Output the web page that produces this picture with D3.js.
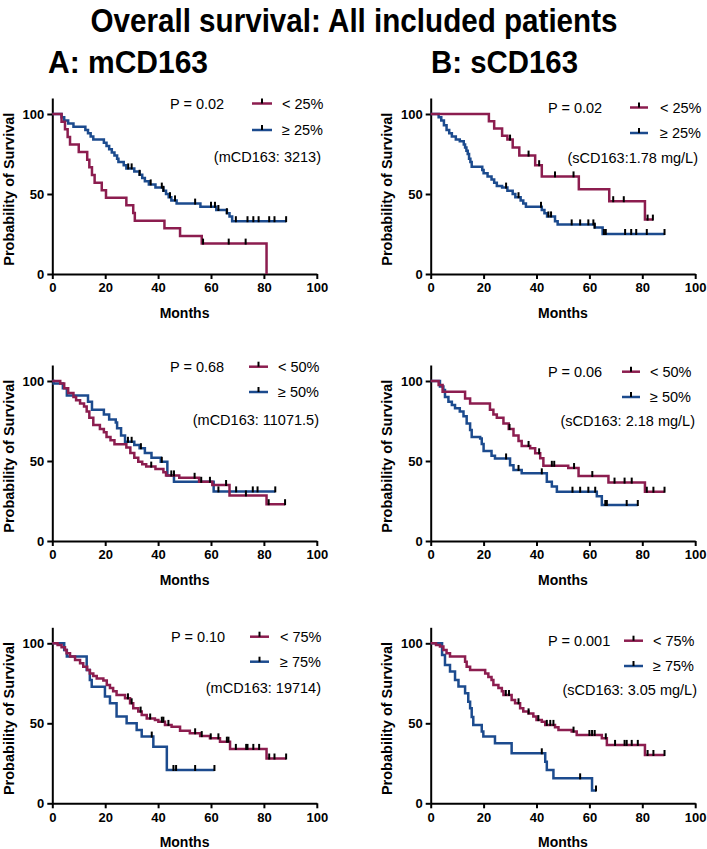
<!DOCTYPE html>
<html>
<head>
<meta charset="utf-8">
<script src="https://cdn.jsdelivr.net/npm/d3@7"></script>
<style>
  body { margin: 0; background: #fff; }
  svg { display: block; font-family: "Liberation Sans", Arial, sans-serif; }
</style>
</head>
<body>
<div id="chart-area"></div>
<script>
// tick labels
var monthTicks = [0, 20, 40, 60, 80, 100];
var survTicks = [0, 50, 100];

// A: mCD163, 25% cut (months, % surviving) + censor times
var mLow25 = [[0,100],[3.5,95.2],[4.8,90.5],[5.8,85.7],[6.7,81],[10,76.2],[13.2,71.4],[14,66.7],[15,61.9],[16,57.1],[18.7,52.4],[20.3,47.6],[28,42.9],[30.6,38.1],[31.2,33.3],[42.4,28.6],[48.3,23.8],[56.5,19],[81,0]];
var mLow25Cens = [57, 66.7, 73.1];
var mHigh25 = [[0,100],[3.5,98],[4.5,96],[6,94],[8,92],[12.5,90],[13.5,88],[14.5,86],[15.5,84],[19.5,82],[20.5,80],[21.5,78],[22.5,76],[23.5,74],[24.5,72],[25,70],[27,68],[28,66],[31,64],[33,62],[34,60],[35,58],[36.5,56],[39,54],[42,52],[43,50],[44,48],[45,46],[47,44],[56,42],[62,40],[66,38],[67,36],[68,33]];
var mHigh25Cens = [28.7, 30, 33, 37.2, 41.4, 42, 44.5, 46.4, 54, 60, 61.5, 62.8, 66, 69.4, 73.8, 76, 78, 82, 84, 88.4];

// B: sCD163, 25% cut
var sLow25 = [[0,100],[22,95.5],[24,91],[27,86.4],[29,84],[31,79],[33.5,74],[39.5,68],[42,61],[56,53],[67.5,45.5],[81,34]];
var sLow25Cens = [30, 37, 41, 47, 54, 69, 73, 82, 84];
var sHigh25 = [[0,100],[3,98],[4,96],[5,93],[6,90],[7,88],[8,86],[9.5,84],[11,83],[12.5,81],[13,79],[13.5,77],[14,75],[14.5,72],[15,70],[15.5,67],[19.5,65],[20,63],[21.5,61],[23,59],[24,57],[25,55],[27,54],[29,52],[31,50],[32,48],[34,46],[35,44],[36,42],[42,40],[43,38],[44,36],[47,33],[48,31],[62,29],[65,25]];
var sHigh25Cens = [28.5, 33.2, 41.7, 44.5, 45.5, 53.3, 56.5, 59.6, 61.5, 62, 65.5, 66.2, 73.5, 75.8, 77.7, 81.7, 88.4];

// A: mCD163, 50% cut
var mLow50 = [[0,100],[3,98.5],[4.5,95.5],[6,92.5],[8,90],[9,88],[10.5,86],[12,84],[13,81],[14,77],[15.5,72.5],[18,70],[19.5,68],[20.5,65],[22,63],[23.5,60.5],[28,58.5],[29.5,55],[31,52],[32.5,49.5],[34,48],[35.5,46.5],[39,45],[42,43],[43,41],[48,39.5],[55.5,37],[60.5,35],[67,28.5],[81,23]];
var mLow50Cens = [37.4, 46, 53.8, 56.3, 65.7, 73.2, 81.8, 88];
var mHigh50 = [[0,100],[0.5,98.5],[4,95.5],[5.5,91],[13.5,87],[15,82],[19.5,79],[21.5,76],[24,74],[24.5,70.5],[26,66],[27.5,62],[31,60],[33,58],[35,55],[37.5,52],[41,49.5],[43.5,41],[46,37],[61,31]];
var mHigh50Cens = [28.6, 30, 33.5, 41.4, 45, 59.6, 62.8, 69.5, 75.8, 77.6, 84.3];

// B: sCD163, 50% cut
var sLow50 = [[0,100],[3,97.5],[4.5,93.3],[13,89],[14.9,86],[22.4,82],[23.7,79],[25,77],[27.5,73.5],[29.5,70],[31.3,66],[33.2,62.5],[34.4,59.4],[37.6,58],[39.5,54.8],[41.4,51.7],[42.6,47],[52,45.6],[55.9,40.6],[67.2,36.5],[81,30.8]];
var sLow50Cens = [29.8, 37, 41, 45.8, 46.7, 54.2, 61.1, 69.5, 73.3, 76, 81.7, 84.2, 88.4];
var sHigh50 = [[0,100],[3.5,96.5],[4.8,94.4],[5.4,90],[6.7,87],[8,85],[9.2,83],[11,81],[12.4,78],[13.6,73.5],[14.9,69.4],[15.5,65],[18.7,64],[19.3,60.6],[20,56.3],[23,53.3],[24.3,51.6],[30,47.3],[31.3,44.4],[34.4,42.3],[43.9,37],[45.8,34],[47.7,30.8],[62.8,28],[64.7,22.5]];
var sHigh50Cens = [28.5, 33.2, 42, 53.6, 56.5, 59.6, 62.2, 66, 66.6, 74.1, 78.3];

// A: mCD163, 75% cut
var mLow75 = [[0,100],[2,99],[3.5,97.5],[4.8,95.8],[5.4,93.8],[6.7,91.7],[8.6,89.6],[10.5,87.5],[11.7,85.4],[13.2,83.3],[14.2,81.2],[15.5,79.6],[16.8,78],[19.3,76.7],[20.6,74],[21.8,72],[23,70],[24.3,67.7],[27.5,65.6],[29.4,62.5],[30.6,59.4],[32.5,57.3],[33.8,55.2],[35.7,53],[38.8,52],[40.1,51],[42.6,49],[45.1,47.9],[48.3,45.4],[52,43.75],[55.9,42],[59.6,40.6],[63.4,38.5],[67.2,34],[81,28]];
var mLow75Cens = [28.6, 30, 33.4, 37, 41.4, 42, 43.9, 54, 56.5, 59.9, 62.8, 66, 66.6, 69.4, 73.3, 73.8, 76, 78.2, 82, 84, 88.4];
var mHigh75 = [[0,100],[4.5,95.8],[5.5,91.7],[13,83.3],[14.2,77],[14.9,72.9],[19.9,66.7],[21.8,62.5],[24.3,54.2],[28.1,50],[31.9,45.8],[33.8,41.7],[38.2,35.4],[43.3,20.8]];
var mHigh75Cens = [37.6, 45.8, 46.8, 54, 61.3];

// B: sCD163, 75% cut
var sLow75 = [[0,100],[2,99],[3.5,98],[4.8,95.8],[6,93.8],[7.3,91.7],[13,88.5],[13.6,85.4],[14.9,83.3],[20.6,81.2],[21.8,79],[23,77],[23.7,74],[25.6,72],[26.9,70],[27.5,67.7],[30.6,64.6],[31.9,62.5],[33.8,59.4],[35,57.3],[37,56.2],[38.8,54.2],[40,52],[42,51],[43.3,49],[47,47.5],[48.3,45.8],[53.3,44.8],[55.2,42.7],[64.7,40.6],[66.6,36.5],[81,30.2]];
var sLow75Cens = [28.4, 29.6, 33.2, 37, 40.7, 43.9, 45.2, 46.4, 54, 60, 61, 62, 66.2, 69.7, 73.3, 74.1, 76, 78.3, 82, 84.2, 88.4];
var sHigh75 = [[0,100],[4.3,92.7],[5.4,86.5],[7.3,82.3],[9.2,77],[10.5,73],[13,68.75],[14.2,63.5],[14.9,59.4],[15.5,54],[16.1,49],[19.3,44.8],[19.9,41.7],[24.3,37.5],[30.6,31.25],[43.3,26],[43.9,20.8],[46.4,15.6],[61,8]];
var sHigh75Cens = [42, 56.5, 62.5];

var width = 707;
var height = 849;
var red = "#8c1d4f";
var blue = "#1c4b8e";

var panels = [
    {x0: 52.3, y0: 274, low: mLow25, lowCens: mLow25Cens, high: mHigh25, highCens: mHigh25Cens,
     p: "P = 0.02", lowLab: "< 25%", highLab: "\u2265 25%", note: "(mCD163: 3213)",
     leg: {px: 170, r1: 103.5, r2: 130, l1: 252, l2: 272, tx: 282, nx: 321, ny: 156.7}},
    {x0: 430.7, y0: 274, low: sLow25, lowCens: sLow25Cens, high: sHigh25, highCens: sHigh25Cens,
     p: "P = 0.02", lowLab: "< 25%", highLab: "\u2265 25%", note: "(sCD163:1.78 mg/L)",
     leg: {px: 548, r1: 107.5, r2: 133, l1: 630, l2: 648, tx: 660, nx: 698, ny: 158}},
    {x0: 52.3, y0: 541, low: mLow50, lowCens: mLow50Cens, high: mHigh50, highCens: mHigh50Cens,
     p: "P = 0.68", lowLab: "< 50%", highLab: "\u2265 50%", note: "(mCD163: 11071.5)",
     leg: {px: 170, r1: 366.7, r2: 392, l1: 249, l2: 268, tx: 278, nx: 319, ny: 420}},
    {x0: 430.7, y0: 541, low: sLow50, lowCens: sLow50Cens, high: sHigh50, highCens: sHigh50Cens,
     p: "P = 0.06", lowLab: "< 50%", highLab: "\u2265 50%", note: "(sCD163: 2.18 mg/L)",
     leg: {px: 548, r1: 371.7, r2: 397, l1: 622, l2: 640, tx: 650, nx: 695, ny: 421}},
    {x0: 52.3, y0: 803.3, low: mLow75, lowCens: mLow75Cens, high: mHigh75, highCens: mHigh75Cens,
     p: "P = 0.10", lowLab: "< 75%", highLab: "\u2265 75%", note: "(mCD163: 19714)",
     leg: {px: 171, r1: 636.7, r2: 661.7, l1: 250, l2: 269, tx: 280, nx: 321, ny: 688}},
    {x0: 430.7, y0: 803.3, low: sLow75, lowCens: sLow75Cens, high: sHigh75, highCens: sHigh75Cens,
     p: "P = 0.001", lowLab: "< 75%", highLab: "\u2265 75%", note: "(sCD163: 3.05 mg/L)",
     leg: {px: 548, r1: 640.7, r2: 666, l1: 624, l2: 643, tx: 653, nx: 697, ny: 690}}
];

var svg = d3.select("#chart-area")
    .append("svg")
    .attr("width", width)
    .attr("height", height);

// headings
svg.append("text")
    .attr("x", 354)
    .attr("y", 32)
    .attr("text-anchor", "middle")
    .attr("font-size", "33px")
    .attr("font-weight", "bold")
    .attr("textLength", 527)
    .attr("lengthAdjust", "spacingAndGlyphs")
    .text("Overall survival: All included patients");

svg.append("text")
    .attr("x", 48)
    .attr("y", 73)
    .attr("font-size", "32px")
    .attr("font-weight", "bold")
    .attr("textLength", 160)
    .attr("lengthAdjust", "spacingAndGlyphs")
    .text("A: mCD163");

svg.append("text")
    .attr("x", 431)
    .attr("y", 73)
    .attr("font-size", "32px")
    .attr("font-weight", "bold")
    .attr("textLength", 147)
    .attr("lengthAdjust", "spacingAndGlyphs")
    .text("B: sCD163");

var bisect = d3.bisector(function(d) { return d[0]; }).right;

function survAt(pts, t) {
    return pts[bisect(pts, t) - 1][1];
}

// carry the last level out to the last censored patient
function extend(pts, cens) {
    var last = pts[pts.length - 1];
    var end = d3.max(cens.concat([last[0]]));
    return end > last[0] ? pts.concat([[end, last[1]]]) : pts;
}

panels.forEach(function(p) {
    var x = d3.scaleLinear().domain([0, 100]).range([p.x0, p.x0 + 264.5]);
    var y = d3.scaleLinear().domain([0, 110]).range([p.y0, p.y0 - 176]);
    var g = svg.append("g");

    var xAxisCall = d3.axisBottom(x)
        .tickValues(monthTicks)
        .tickSize(5)
        .tickSizeOuter(0)
        .tickPadding(4);
    var xg = g.append("g")
        .attr("transform", "translate(0," + p.y0 + ")")
        .call(xAxisCall);

    var yAxisCall = d3.axisLeft(y)
        .tickValues(survTicks)
        .tickSize(5)
        .tickSizeOuter(0)
        .tickPadding(3);
    var yg = g.append("g")
        .attr("transform", "translate(" + p.x0 + ",0)")
        .call(yAxisCall);

    [xg, yg].forEach(function(a) {
        a.attr("font-family", null).attr("font-size", null);
        a.select(".domain").attr("stroke", "#000").attr("stroke-width", 2);
        a.selectAll(".tick line").attr("stroke", "#000").attr("stroke-width", 2);
        a.selectAll(".tick text")
            .attr("fill", "#000")
            .attr("font-size", "13px")
            .attr("font-weight", "bold");
    });

    g.append("text")
        .attr("x", x(50))
        .attr("y", p.y0 + 44)
        .attr("text-anchor", "middle")
        .attr("font-size", "14px")
        .attr("font-weight", "bold")
        .text("Months");

    g.append("text")
        .attr("transform", "translate(" + (p.x0 - 38.5) + "," + y(53) + ") rotate(-90)")
        .attr("text-anchor", "middle")
        .attr("font-size", "14.5px")
        .attr("font-weight", "bold")
        .text("Probability of Survival");

    var line = d3.line()
        .x(function(d) { return x(d[0]); })
        .y(function(d) { return y(d[1]); })
        .curve(d3.curveStepAfter);

    var series = [
        {pts: p.high, cens: p.highCens, color: blue},
        {pts: p.low, cens: p.lowCens, color: red}
    ];

    series.forEach(function(s) {
        g.append("path")
            .attr("d", line(extend(s.pts, s.cens)))
            .attr("fill", "none")
            .attr("stroke", s.color)
            .attr("stroke-width", 2.5);
    });

    series.forEach(function(s) {
        g.selectAll(null)
            .data(s.cens)
            .enter()
            .append("line")
            .attr("x1", function(d) { return x(d); })
            .attr("x2", function(d) { return x(d); })
            .attr("y1", function(d) { return y(survAt(s.pts, d)) + 1; })
            .attr("y2", function(d) { return y(survAt(s.pts, d)) - 5; })
            .attr("stroke", "#000")
            .attr("stroke-width", 2);
    });

    // legend
    var L = p.leg;
    g.append("text")
        .attr("x", L.px)
        .attr("y", L.r1 + 5)
        .attr("font-size", "14.5px")
        .text(p.p);

    [[L.r1, red, p.lowLab], [L.r2, blue, p.highLab]].forEach(function(r) {
        g.append("line")
            .attr("x1", L.l1).attr("x2", L.l2)
            .attr("y1", r[0]).attr("y2", r[0])
            .attr("stroke", r[1])
            .attr("stroke-width", 2.5);
        g.append("line")
            .attr("x1", (L.l1 + L.l2) / 2).attr("x2", (L.l1 + L.l2) / 2)
            .attr("y1", r[0]).attr("y2", r[0] - 5)
            .attr("stroke", "#000")
            .attr("stroke-width", 2);
        g.append("text")
            .attr("x", L.tx)
            .attr("y", r[0] + 5)
            .attr("font-size", "14.5px")
            .text(r[2]);
    });

    g.append("text")
        .attr("x", L.nx)
        .attr("y", L.ny + 5)
        .attr("text-anchor", "end")
        .attr("font-size", "14.5px")
        .text(p.note);
});
</script>
</body>
</html>
